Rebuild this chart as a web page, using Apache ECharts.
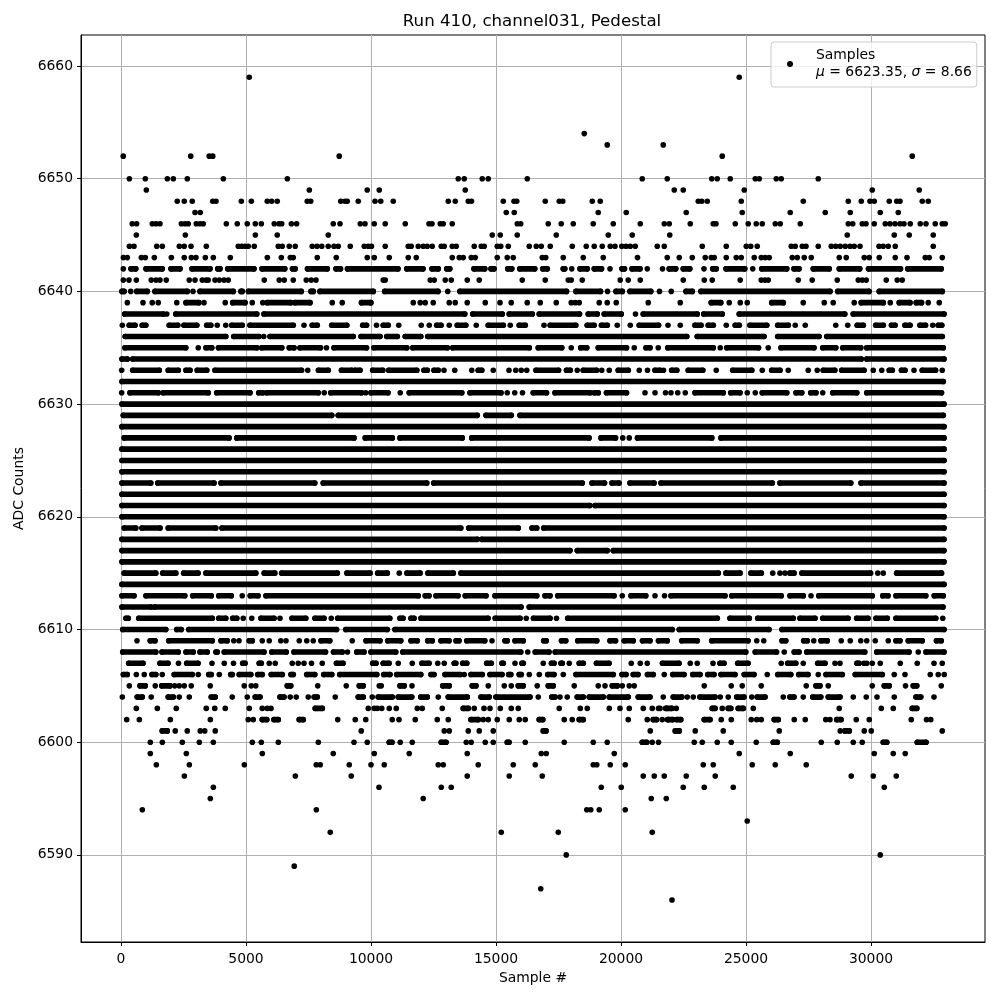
<!DOCTYPE html>
<html>
<head>
<meta charset="utf-8">
<script src="https://cdn.jsdelivr.net/npm/echarts@6/dist/echarts.min.js"></script>
<style>
html, body { margin: 0; padding: 0; background: #fff; }
#chart { width: 1000px; height: 1000px; }
</style>
</head>
<body>
<div id="chart"></div>
<script>
// sample numbers, one list per ADC level
// a number is a single dot, a [from, to] pair is a stretch of touching dots
const adc6659 = [5130, 24730];
const adc6654 = [18530];
const adc6653 = [19450, 21690];
const adc6652 = [90, 2790, 3530, 3670, 8730, 24050, 31650];
const adc6650 = [335, 973, 1853, 2093, 2653, 4093, 6653, 13490, 13730, 14450, 14690, 16250, 20850, 21850, 23630, 23850, 24370, 25370, 25530, 26210, 26410, 27890];
const adc6649 = [1013, 7533, 9850, 10330, 13770, 22130, 22490, 24930, 30050, 31930];
const adc6648 = [2250, 2530, 2850, 3670, 3800, 4813, 5213, 5850, 6025, 6250, 7450, 7590, 8790, 8960, 9050, 9490, 10160, 10390, 10890, 13090, 13370, 13890, 14020, 15290, 15720, 15830, 16970, 17530, 17670, 18850, 19170, 23090, 23230, 23450, 24810, 27290, 29090, 29610, 29960, 30130, 30730, 31030, 31160, 32050, 32290];
const adc6647 = [2960, 3170, 15410, 15730, 19090, 20210, 22610, 24850, 26770, 28170, 29170, 30370, 31090];
const adc6646 = [450, 625, 1250, 1400, 1560, 2413, 2560, 2690, 3010, 3160, 3290, 4213, 4650, 5050, 5373, 5613, 6130, 6320, 6430, 6813, 7025, 8490, 8760, 9570, 9760, 10130, 10570, 11370, 12320, 12440, 12770, 12890, 13250, 15850, 15990, 17090, 17610, 18090, 18890, 19690, 20770, 21730, 21930, 22770, 23690, 23800, 24570, 25090, 25410, 25650, 26170, 26370, 27170, 29090, 29270, 29650, 29800, 30130, 30570, 30760, 30960, 31160, 31320, 31570, 31970, 32200, 32570, 32850, 32970];
const adc6645 = [613, 2573, 5373, 6250, 8290, 14850, 15170, 15850, 17410, 19490, 20450, 21950, 29050, 30930, 31530, 32490];
const adc6644 = [335, 520, 1430, 1653, 2333, 2530, 2800, 3413, 4690, 4830, 4960, 5090, 5330, 6290, 6450, 6730, 6970, 7650, 7840, 8030, 8290, 8520, 8690, 9170, 9730, 9890, 10020, 10570, 11490, 11610, 11890, 12090, 12250, 12450, 12810, 12930, 13250, 13410, 14130, 14410, 14530, 15050, 15190, 15490, 16330, 16610, 16810, 17170, 18050, 18610, 18930, 19250, 19570, 19760, 20030, 20200, 20370, 20570, 21450, 21730, 23250, 24210, 25010, 25190, 25450, 26810, 26970, 27250, 27400, 27890, 28410, 28590, 28770, 28970, 29160, 29330, 29560, 30320, 30490, 30690, 30970, 32490];
const adc6643 = [95, 253, 813, 973, 1333, 2013, 2530, 2813, 3000, 3373, 3693, 4373, 5853, 6413, 6773, 6890, 7850, 8610, 9850, 10130, 10730, 11490, 11810, 13250, 13530, 13690, 14010, 14170, 15050, 15450, 15690, 16850, 16990, 17690, 18490, 19290, 20660, 21850, 22330, 22850, 23370, 23610, 23730, 24210, 24610, 24810, 25330, 25610, 25770, 25930, 26850, 27050, 27330, 27610, 28730, 29010, 29730, 29930, 30330, 30970, 31440, 32170, 32330, 32850];
const adc6642 = [93, [400, 590], [1000, 1650], [2000, 2360], [2840, 3560], [3870, 3960], [4270, 5320], [5640, 6550], [6860, 6970], [7460, 8250], [8600, 8780], [9060, 11080], [11430, 12080], [12440, 12690], [13030, 13150], [14120, 14550], [14800, 14920], [15470, 15630], [15950, 16550], [16870, 17050], [17690, 17750], 18030, [18360, 18650], [18930, 19220], 19560, [20040, 20140], [20440, 20760], 21050, 21660, [21930, 22190], [22490, 22750], 23320, [23670, 23810], [24200, 24950], 25270, [25630, 26630], [26920, 27120], [27690, 28330], [28730, 29550], [29900, 31180], [31470, 32810]];
const adc6641 = [93, 320, 613, 1210, 1400, 1560, 1810, 2730, 2960, 3250, 3400, 3490, 3760, 3930, 4120, 4290, 5730, 6330, 6530, 6890, 7410, 7610, 7800, 10490, 10570, 12370, 12530, 12970, 13210, 13850, 14330, 16050, 16970, 17890, 18010, 18450, 19970, 20290, 20770, 22490, 23330, 23650, 24770, 25610, 25760, 25890, 27090, 27650, 28650, 29490, 29650, 29810, 30610, 31050, 31250];
const adc6640 = [[40, 120], 390, [630, 1050], [1360, 2650], 2880, [3160, 4490], [4800, 4850], [5100, 7210], [7600, 7690], [7960, 10090], [10550, 12680], 13070, [13560, 17820], [18200, 19180], 19460, [19800, 20050], [20360, 21190], 21540, 22010, [22600, 22850], [23200, 28360], [28670, 29920], [30330, 32850]];
const adc6639 = [253, 880, 1250, 1490, 2230, [2600, 3110], 3320, 4170, [4470, 4960], 5250, 5670, [5850, 6790], [6960, 7560], 8450, 8850, [9620, 9980], 10000, 11690, 11970, 12170, 12490, 13130, 13370, 13850, 14570, 15160, 15610, 16250, 16770, 17410, 18010, 18170, 18330, 19130, 19450, 19810, 21090, 22370, [23610, 23990], 24330, 24770, 25050, [26030, 26490], 27290, 28130, 28490, 29330, [29610, 30490], 30770, [31130, 31560], [31810, 32020], 32290, 32730];
const adc6638 = [[150, 1690], 1830, [2190, 5430], [5720, 13750], [14070, 15250], [15530, 16450], [16730, 18340], [18690, 19050], [19330, 20010], 20580, [20890, 23050], [23310, 24050], [24730, 28950], [29290, 32920]];
const adc6637 = [53, [330, 560], [850, 990], [1930, 2270], [2520, 3030], [3430, 3590], 3850, 4190, [4430, 4850], [5160, 6890], 7320, [7650, 7850], [8430, 9030], [9670, 9820], 10220, [10490, 10690], 11110, 12010, 12330, [12630, 12800], 13130, [13450, 13790], 14210, [14690, 15290], 15570, [15930, 16170], 16920, [17170, 18190], [18650, 18920], [19220, 19450], 19850, 20370, [20730, 21500], 21880, 22370, [22960, 23200], [23490, 23690], 24210, [24570, 24730], [25160, 25830], [26270, 26690], 26970, 27370, 28590, 29070, [29450, 29690], [30190, 30490], [30820, 30960], [31360, 31560], [31960, 32180], 32470, [32690, 32830]];
const adc6636 = [[170, 4190], [4510, 5520], 5710, [5960, 9290], [9600, 10360], [10630, 11050], [11370, 11990], [12270, 22630], [23050, 25720], [26270, 27920], [28230, 32850]];
const adc6635 = [[160, 2590], 3090, [3400, 3630], [3900, 5430], [5630, 6430], [6730, 6920], [7160, 7980], 8220, [8520, 9820], [10120, 11430], [11670, 13050], [13270, 16330], [16690, 17630], 18010, [18390, 18630], [19090, 20220], 20530, [21000, 21160], 21490, [21870, 23690], 23970, [24230, 25500], 25890, [26400, 27720], [28070, 28590], [28870, 29590], [29830, 32890]];
const adc6634 = [[40, 250], [470, 29610], [29830, 32920]];
const adc6633 = [27, [470, 1530], [1890, 2290], [2600, 2760], [3050, 3430], [3760, 7220], 7470, [7900, 8290], [8820, 9230], [9360, 9560], [10070, 10470], [10710, 11830], [12120, 12250], [12520, 12690], 12920, 13350, 14030, [14290, 14430], 14890, 15520, 15790, 16010, 16230, [16600, 17500], [17820, 17970], 18250, [18490, 19020], 19230, 19530, [19890, 20290], 20730, 21060, [21360, 21560], 21700, [22030, 22230], [22690, 23270], 23810, [24470, 25230], 25650, [26030, 26360], 26690, 27490, 27850, [28090, 28550], [28830, 29720], 30090, 30430, [30730, 30850], [31220, 31360], 31720, [32050, 32580], 32850];
const adc6632 = [[40, 32890]];
const adc6631 = [27, [360, 1490], [1690, 3490], [3830, 5160], [5510, 5670], [5830, 7890], 8130, [8390, 9620], 9790, [10000, 10680], 11170, [11530, 13630], [13960, 15200], 15450, 15750, 16060, [16490, 17020], [17360, 18760], [18930, 19090], [19420, 20220], 20960, 21360, 21780, 22000, 22270, 22570, [22960, 24090], [24390, 24760], 25050, 25370, [25650, 26630], [27000, 27230], [27590, 27800], 28070, [28470, 29430], [29830, 32820]];
const adc6630 = [[40, 32920]];
const adc6629 = [[93, 8430], [8690, 14250], [14600, 15610], [15960, 32890]];
const adc6628 = [[40, 32920]];
const adc6627 = [[130, 4320], [4630, 9320], [9770, 10850], [11160, 13650], [14030, 18720], [19200, 19780], 20070, 20330, [20660, 23630], [24000, 32920]];
const adc6626 = [[40, 32920]];
const adc6625 = [[40, 32920]];
const adc6624 = [[40, 32920]];
const adc6623 = [[40, 1190], [1470, 3720], [4000, 7750], [8090, 12230], [12510, 18450], [18840, 19340], [19640, 19920], [20360, 21320], [21600, 26050], [26360, 29190], [29600, 32920]];
const adc6622 = [[40, 32920]];
const adc6621 = [[40, 18750], [18960, 32920]];
const adc6620 = [[40, 32920]];
const adc6619 = [[130, 590], [840, 1560], [1890, 3790], [4040, 13590], [13910, 15890], [16440, 16630], [16910, 32920]];
const adc6618 = [[40, 14250], [14430, 32920]];
const adc6617 = [[40, 17960], [18250, 19450], [19690, 32920]];
const adc6616 = [[40, 32920]];
const adc6615 = [[130, 1390], [1670, 2190], [2510, 3080], [3400, 5390], [5730, 6150], [6430, 8650], [9040, 9960], [10270, 10650], 11130, [11440, 11960], [12280, 13290], [13600, 23890], [24200, 24760], [25200, 25610], 26070, 26360, 26560, [26760, 26920], [27240, 29980], 30270, 30490, [31030, 32820]];
const adc6614 = [[40, 32920]];
const adc6613 = [[40, 520], [1000, 2550], [2870, 3610], [3910, 4410], 4850, [5170, 5480], [5800, 11890], [12170, 12320], [12600, 13480], [13770, 14600], [14960, 16630], [16960, 17160], [17470, 19720], 20050, [20400, 20990], 21360, 21740, [22000, 24160], [24430, 26410], [26760, 27290], 27600, [27910, 30050], [30470, 30680], [31000, 32190], [32530, 32890]];
const adc6612 = [[40, 1200], [1350, 16000], [16330, 32880]];
const adc6611 = [[200, 290], [710, 3650], [3910, 4190], [4470, 4630], 4890, 5230, [5600, 6120], 6360, [6840, 7390], [7760, 8120], 8410, [8670, 10750], [11160, 11280], [11600, 11720], [12000, 14680], [14970, 15960], 16210, [16500, 17160], 17420, [17870, 23850], [24360, 25130], [25470, 26890], [27160, 27760], [28070, 29080], [29430, 29880], [30200, 30650], [31000, 32590], 32870];
const adc6610 = [[70, 1790], [2230, 2410], [2710, 8620], [8990, 10650], [10960, 22050], [22330, 25920], [26440, 32920]];
const adc6609 = [640, [1170, 1360], [1910, 3650], [4000, 4250], 4510, 4720, [5130, 5250], 5650, 5930, 6390, 6600, 7130, 7430, 7690, [8000, 8350], 9250, [9800, 10360], [10670, 11190], [11600, 11850], [12270, 12450], [12800, 13120], [13400, 13520], [13830, 14550], 14840, [15360, 15450], [15760, 16090], [16910, 17010], [17620, 17790], [18270, 19030], [19560, 19780], [20130, 20490], [20860, 21160], [21500, 21850], [22430, 23050], [23630, 25080], 25430, 25710, [26440, 26590], [27310, 27450], 27710, [28000, 28250], 28810, 29170, 29590, 29830, 30170, 30690, [31000, 31160], [31490, 32050], [32620, 32810]];
const adc6608 = [[70, 1390], [1640, 2290], [2600, 2890], [3160, 3450], [3800, 3850], [4130, 5720], [6030, 6610], [6920, 8180], [8500, 8850], 9060, [9430, 9720], [10000, 10990], [11270, 15990], 16270, [16570, 17120], [17370, 24990], [25370, 26220], 26530, [26930, 27120], [27430, 29750], [30230, 31520], 31890, [32200, 32920]];
const adc6607 = [[310, 880], [1560, 1880], 2300, [2630, 3080], 3640, 4130, 4500, [4870, 4960], [5530, 5610], 5930, 6170, 6850, 7090, 7320, 7620, 8050, [8620, 8880], [10070, 10200], [10490, 10720], 11090, 11650, [12040, 12320], 12670, 12930, [13330, 13390], [13670, 13830], [14630, 14810], [15240, 15290], 15760, [16040, 16090], 16890, [17220, 17320], [17600, 17650], 17930, [18330, 18490], [19020, 19520], 20410, 20770, 21050, [21660, 22320], 22770, 23050, 23680, [23960, 24120], [24670, 25080], 26410, [26670, 26990], 27290, [27870, 28160], 28560, 28760, [29440, 29520], 29720, 29830, 30050, 30370, 31170, 31850, 32520, 32850];
const adc6606 = [[95, 250], 613, 930, [1240, 1390], 1650, [2130, 2850], 3090, [3510, 3610], 3930, [4390, 4450], [4730, 5190], [5470, 5650], [6010, 6450], [6800, 6890], [7430, 7750], [8110, 8430], [8750, 10230], [10510, 10760], [11030, 11990], [12400, 12520], [12960, 13560], 13730, [14000, 14450], [14760, 15240], [15510, 15590], [15930, 16010], 16330, 16730, [17070, 17320], 17690, [18200, 19690], [20040, 20200], [20490, 20680], [21060, 21290], 21730, [22070, 22520], [22870, 23160], [23470, 23720], [24000, 24560], [24930, 25320], 25850, [26270, 26790], [27110, 27480], 27890, [28200, 28850], [29370, 30450], 30930, 31360, 32370, 32690, 32930];
const adc6605 = [333, [760, 970], 1370, [1630, 1960], 2150, 2330, 2530, 2810, 3570, 4930, 5210, 5390, [6650, 6790], 7870, 9010, [9530, 9690], 10330, 10410, [11160, 11330], 11640, [12870, 13130], [14050, 14200], 14690, 15330, 15610, [15890, 16090], 16650, [17090, 17290], 18130, 19090, 19360, [19650, 19850], 20050, 20330, 20530, 23330, 24410, 24850, 25610, 27410, [27800, 27960], 28290, 30050, [30530, 30730], 31380, [31690, 31830], 32810];
const adc6604 = [53, [650, 850], 1210, [1890, 2090], 2330, 2730, [3610, 3770], 4450, 5050, [5370, 5560], [6360, 6520], 6770, 7010, 7490, [7730, 7850], 8570, [9490, 9690], 10050, [10290, 10850], [11090, 11630], [11990, 12250], 12690, [13090, 13850], [14400, 14730], [15000, 16360], 16690, [17230, 17360], 17560, 17850, [18250, 18490], [18730, 19290], [19530, 20290], [20690, 21160], 21690, [22090, 22430], 22650, 22890, [23160, 23760], 23970, 24290, [24630, 24920], 25230, [25450, 25760], 26490, [26760, 26920], 27290, [27670, 27990], [28290, 28760], 29290, 29810, 30240, 30930, [31800, 31990], 32520];
const adc6603 = [613, 1453, 2210, 3410, 3750, 4170, 5130, 5650, 5850, 6000, [7770, 8050], 9890, 10130, 10250, 10430, 10730, 11010, 11850, 12050, 12850, [13690, 13890], 14130, 14520, 14760, 15170, 15610, 15890, 17530, 18370, 18650, 19530, 19960, 20330, 20890, 21250, 21500, 21780, 21560, [21830, 22030], 22210, [23650, 23760], 24050, [24290, 24390], [24690, 24890], 25290, 28730, 30410, 30890, [31650, 31830]];
const adc6602 = [227, 733, 1973, 3573, 5090, 5290, [5650, 5830], [6120, 6290], [7130, 7290], 8670, 9370, 9790, 10850, 11120, 11770, 12650, 13090, [14000, 14290], 14490, 14690, 15050, 15530, 15930, 16170, [16730, 16870], 17730, 18050, [18330, 18490], 20290, 21050, [21290, 21420], 21650, 21860, [21890, 22070], [22230, 22390], [23330, 23560], 24010, 24410, 25210, 25430, 25610, [26130, 26290], 26930, 27370, 28190, 28360, [28630, 28800], 29410, 29930, 31610, 32220, 32390];
const adc6601 = [[1650, 1850], 2170, 2650, 3170, 3350, 3770, 9610, 12930, 13130, 13890, 14330, 14890, [16890, 17000], 21170, [22170, 22330], 22970, 24090, 26330, 28770, [28960, 29130], 29730, 30010, 32850];
const adc6600 = [1173, 1653, 2453, 3133, 3693, 5253, 5613, 6293, 7893, 9320, 9850, [10730, 10840], 11170, 11650, [12810, 13000], 13810, 14010, 14570, 14890, [15450, 15520], 16170, 17730, 18890, 19450, [20850, 21030], 21250, 21500, 22930, 23250, 23850, 24410, 25410, [26090, 26250], 28010, 28650, 29290, 29650, [30490, 30630], [31850, 32200]];
const adc6599 = [1173, 2613, 5653, 8490, 10130, 11530, 13850, 16810, 17010, 19730, 24730, 26770, 30130, 30890, 31370];
const adc6598 = [1413, 2733, 4933, 7810, 7970, 9130, 10000, 10530, 12690, 12890, 14290, 15690, 16570, 18890, 19030, 19570, 20170, 23290, 23690, 25250, 26170, 27410];
const adc6597 = [2533, 6973, 9210, 13850, 15530, 16850, 20890, 21330, 21730, 22610, 23770, 29210, 30090, 31010];
const adc6596 = [3693, 10320, 12810, 13210, 19210, 20010, 22490, 23330, 24490, 30530];
const adc6595 = [3573, 12090, 21210, 21810];
const adc6594 = [853, 7813, 18630, 18790, 19130, 20170];
const adc6593 = [25050];
const adc6592 = [8370, 15210, 17490, 21250];
const adc6590 = [17810, 30370];
const adc6589 = [6930];
const adc6587 = [16790];
const adc6586 = [22040];

const levels = {
    6659: adc6659, 6654: adc6654, 6653: adc6653, 6652: adc6652, 6650: adc6650, 6649: adc6649, 6648: adc6648,
    6647: adc6647, 6646: adc6646, 6645: adc6645, 6644: adc6644, 6643: adc6643, 6642: adc6642, 6641: adc6641,
    6640: adc6640, 6639: adc6639, 6638: adc6638, 6637: adc6637, 6636: adc6636, 6635: adc6635, 6634: adc6634,
    6633: adc6633, 6632: adc6632, 6631: adc6631, 6630: adc6630, 6629: adc6629, 6628: adc6628, 6627: adc6627,
    6626: adc6626, 6625: adc6625, 6624: adc6624, 6623: adc6623, 6622: adc6622, 6621: adc6621, 6620: adc6620,
    6619: adc6619, 6618: adc6618, 6617: adc6617, 6616: adc6616, 6615: adc6615, 6614: adc6614, 6613: adc6613,
    6612: adc6612, 6611: adc6611, 6610: adc6610, 6609: adc6609, 6608: adc6608, 6607: adc6607, 6606: adc6606,
    6605: adc6605, 6604: adc6604, 6603: adc6603, 6602: adc6602, 6601: adc6601, 6600: adc6600, 6599: adc6599,
    6598: adc6598, 6597: adc6597, 6596: adc6596, 6595: adc6595, 6594: adc6594, 6593: adc6593, 6592: adc6592,
    6590: adc6590, 6589: adc6589, 6587: adc6587, 6586: adc6586
};

const xTicks = [0, 5000, 10000, 15000, 20000, 25000, 30000];
const yTicks = [6590, 6600, 6610, 6620, 6630, 6640, 6650, 6660];

var font = 'DejaVu Sans';
var dotSize = 5.6;

var dots = [];
var runs = [];
Object.keys(levels).forEach(function(level) {
    levels[level].forEach(function(item) {
        if (Array.isArray(item)) {
            runs.push([item[0], item[1], +level]);
            // the ends are real dots too
            dots.push([item[0], +level], [item[1], +level]);
        } else {
            dots.push([item, +level]);
        }
    });
});

function axisStyle(ticks, margin) {
    return {
        axisLine: { show: true, onZero: false, lineStyle: { color: '#000', width: 1 } },
        axisTick: { show: true, inside: false, length: 4, customValues: ticks, lineStyle: { color: '#000', width: 1 } },
        axisLabel: {
            show: true,
            customValues: ticks,
            margin: margin,
            color: '#000',
            fontFamily: font,
            fontSize: 13.9,
            formatter: function(value) {
                return String(value);
            }
        },
        splitLine: { show: true, lineStyle: { color: '#b0b0b0', width: 1 } },
        nameTextStyle: { color: '#000', fontFamily: font, fontSize: 13.9 },
        nameLocation: 'middle'
    };
}

var myChart = echarts.init(document.getElementById('chart'), null, { renderer: 'canvas' });
myChart.setOption({
    animation: false,
    backgroundColor: '#fff',
    title: {
        text: 'Run 410, channel031, Pedestal',
        left: 527,
        top: 8,
        textAlign: 'center',
        textStyle: { color: '#000', fontFamily: font, fontSize: 16.67, fontWeight: 'normal' }
    },
    grid: { left: 81, right: 15, top: 35, bottom: 58, show: true, borderColor: '#000', borderWidth: 1, backgroundColor: 'transparent' },
    xAxis: Object.assign({
        type: 'value',
        name: 'Sample #',
        nameGap: 29,
        min: -1600,
        max: 34560
    }, axisStyle(xTicks, 10)),
    yAxis: Object.assign({
        type: 'value',
        name: 'ADC Counts',
        nameGap: 53,
        min: 6582.27,
        max: 6662.75
    }, axisStyle(yTicks, 8)),
    legend: {
        data: [{ name: 'Samples', icon: 'circle' }],
        left: 771,
        top: 42,
        orient: 'vertical',
        padding: [5, 5, 6, 16],
        itemWidth: 6,
        itemHeight: 6,
        backgroundColor: 'rgba(255,255,255,0.8)',
        borderColor: '#cccccc',
        borderWidth: 1,
        borderRadius: 3,
        selectedMode: false,
        formatter: function() {
            return 'Samples\n{i|\u03bc} = 6623.35, {i|\u03c3} = 8.66';
        },
        textStyle: {
            color: '#000',
            fontFamily: font,
            fontSize: 13.9,
            lineHeight: 17,
            padding: [0, 0, 0, 18],
            rich: { i: { fontStyle: 'italic', fontFamily: font, fontSize: 13.9, color: '#000' } }
        }
    },
    series: [
        {
            name: 'Samples',
            type: 'scatter',
            symbol: 'circle',
            symbolSize: dotSize,
            itemStyle: { color: '#000', opacity: 1 },
            silent: true,
            z: 3,
            data: dots
        },
        {
            type: 'custom',
            silent: true,
            z: 3,
            encode: { x: [0, 1], y: 2 },
            renderItem: function(params, api) {
                var a = api.coord([api.value(0), api.value(2)]);
                var b = api.coord([api.value(1), api.value(2)]);
                return {
                    type: 'line',
                    shape: { x1: a[0], y1: a[1], x2: b[0], y2: b[1] },
                    style: { stroke: '#000', lineWidth: dotSize, lineCap: 'round', fill: null }
                };
            },
            data: runs
        }
    ]
});
</script>
</body>
</html>
